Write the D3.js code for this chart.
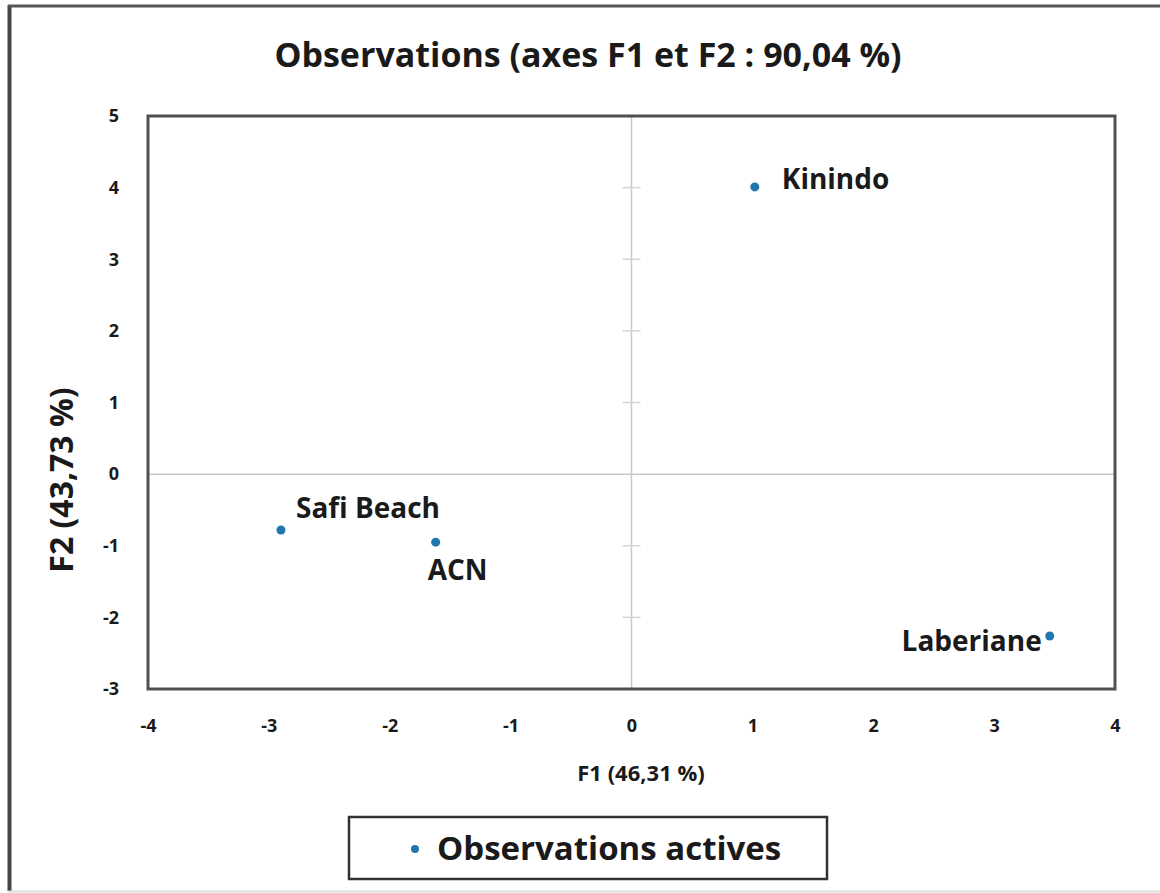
<!DOCTYPE html>
<html>
<head>
<meta charset="utf-8">
<script src="https://cdn.jsdelivr.net/npm/d3@7"></script>
<style>
  body { margin: 0; background: #fff; }
  text { font-family: "Open Sans", sans-serif; font-weight: bold; fill: #1a1a1a; }
</style>
</head>
<body>
<div id="chart"></div>
<script>
// observations (F1, F2)
var names = ["Kinindo", "Safi Beach", "ACN", "Laberiane"];
var f1 = [1.02, -2.90, -1.62, 3.46];
var f2 = [4.01, -0.78, -0.95, -2.26];
var labelPos = ["right", "above", "below", "left"];
var xTicks = [-4, -3, -2, -1, 0, 1, 2, 3, 4];
var yTicks = [5, 4, 3, 2, 1, 0, -1, -2, -3];

var W = 1160, H = 893;
var margin = {top: 116, left: 148, right: 45, bottom: 204};
var width = W - margin.left - margin.right,
    height = H - margin.top - margin.bottom;

var svg = d3.select("#chart").append("svg")
    .attr("width", W).attr("height", H);

// outer frame
svg.append("line").attr("x1", 9.5).attr("x2", 9.5).attr("y1", 5).attr("y2", 891)
    .attr("stroke", "#444").attr("stroke-width", 4);
svg.append("line").attr("x1", 8).attr("x2", W).attr("y1", 6).attr("y2", 6)
    .attr("stroke", "#555").attr("stroke-width", 3);
svg.append("line").attr("x1", 8).attr("x2", W).attr("y1", 891.5).attr("y2", 891.5)
    .attr("stroke", "#ddd").attr("stroke-width", 2);

svg.append("text")
    .attr("x", 588).attr("y", 67)
    .attr("text-anchor", "middle")
    .style("font-size", "34px")
    .text("Observations (axes F1 et F2 : 90,04 %)");

var x = d3.scaleLinear().domain([-4, 4]).range([0, width]);
var y = d3.scaleLinear().domain([-3, 5]).range([height, 0]);

var g = svg.append("g").attr("transform", `translate(${margin.left}, ${margin.top})`);

// zero lines
g.append("line").attr("x1", x(0)).attr("x2", x(0)).attr("y1", 0).attr("y2", height)
    .attr("stroke", "#c8c8c8").attr("stroke-width", 1.5);
g.append("line").attr("x1", 0).attr("x2", width).attr("y1", y(0)).attr("y2", y(0))
    .attr("stroke", "#c8c8c8").attr("stroke-width", 1.5);

// small ticks on the vertical zero line
g.selectAll(".ztick").data(yTicks.filter(function(d) { return d > -3 && d < 5 && d != 0; }))
    .enter().append("line")
    .attr("x1", x(0) - 9).attr("x2", x(0) + 9)
    .attr("y1", function(d) { return y(d); }).attr("y2", function(d) { return y(d); })
    .attr("stroke", "#d4d4d4").attr("stroke-width", 1.5);

// plot frame
g.append("rect").attr("width", width).attr("height", height)
    .attr("fill", "none").attr("stroke", "#505050").attr("stroke-width", 3);

// tick labels (plain hyphen for negatives, like the original)
var fmt = function(d) { return String(d); };
var xAxis = d3.axisBottom(x).tickValues(xTicks).tickFormat(fmt).tickSize(0).tickPadding(30);
var yAxis = d3.axisLeft(y).tickValues(yTicks).tickFormat(fmt).tickSize(0).tickPadding(29);

var gx = g.append("g").attr("transform", `translate(0, ${height})`).call(xAxis);
var gy = g.append("g").call(yAxis);
[gx, gy].forEach(function(a) {
    a.select(".domain").remove();
    a.selectAll("text").style("font-size", "18px").style("font-family", "'Open Sans', sans-serif").attr("fill", "#1a1a1a");
});

// axis titles
svg.append("text")
    .attr("x", 641).attr("y", 781)
    .attr("text-anchor", "middle")
    .style("font-size", "22px")
    .text("F1 (46,31 %)");
svg.append("text")
    .attr("transform", "translate(73, 480) rotate(-90)")
    .attr("text-anchor", "middle")
    .style("font-size", "32px")
    .text("F2 (43,73 %)");

// points
var pts = names.map(function(n, i) { return {name: n, f1: f1[i], f2: f2[i], pos: labelPos[i]}; });
g.selectAll(".pt").data(pts).enter().append("circle")
    .attr("cx", function(d) { return x(d.f1); })
    .attr("cy", function(d) { return y(d.f2); })
    .attr("r", 4.5).attr("fill", "#1f77ad");

g.selectAll(".lbl").data(pts).enter().append("text")
    .attr("x", function(d) {
        var px = x(d.f1);
        if (d.pos == "right") return px + 27;
        if (d.pos == "left") return px - 8;
        if (d.pos == "above") return px + 15;
        return px - 8;
    })
    .attr("y", function(d) {
        var py = y(d.f2);
        if (d.pos == "above") return py - 12;
        if (d.pos == "below") return py + 38;
        if (d.pos == "left") return py + 15;
        return py + 2;
    })
    .attr("text-anchor", function(d) { return d.pos == "left" ? "end" : "start"; })
    .style("font-size", "28px")
    .text(function(d) { return d.name; });

// legend
var lg = svg.append("g").attr("transform", "translate(349, 817)");
lg.append("rect").attr("width", 478).attr("height", 62)
    .attr("fill", "#fff").attr("stroke", "#333").attr("stroke-width", 2.5);
lg.append("circle").attr("cx", 66).attr("cy", 32).attr("r", 4).attr("fill", "#1f77ad");
lg.append("text").attr("x", 88).attr("y", 43).style("font-size", "33px").text("Observations actives");
</script>
</body>
</html>
